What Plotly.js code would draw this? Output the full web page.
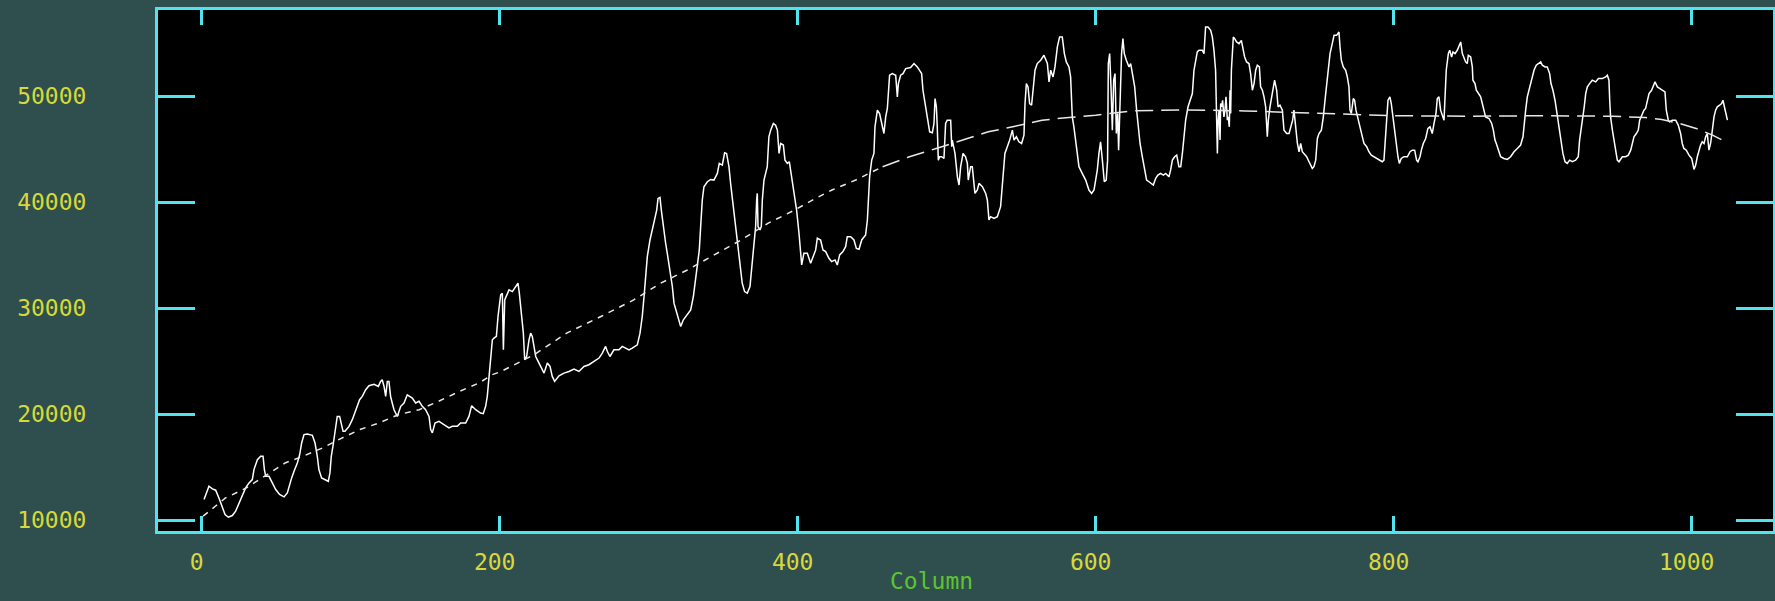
<!DOCTYPE html>
<html>
<head>
<meta charset="utf-8">
<script src="https://cdn.plot.ly/plotly-3.0.1.min.js"></script>
<style>
html,body{margin:0;padding:0;background:#2f4f4f;}
#chart{width:1775px;height:601px;}
</style>
</head>
<body>
<div id="chart"></div>
<script>
// ---- data: [column, counts] ----
const profileA = [[1.6,11950],[3.1,12570],[4.9,13200],[7.2,12950],[9.4,12830],[11.6,12100],[13.4,11320],[15.7,10530],[17.9,10280],[20.6,10440],[22.8,10850],[25.1,11630],[27.3,12320],[29.5,13050],[31.8,13520],[34.0,13830],[35.1,14770],[37.4,15710],[39.6,16030],[41.2,16030],[42.1,14770],[43.0,14140],[45.2,14140],[47.4,13520],[49.7,12890],[52.3,12420],[55.3,12200],[57.5,12570],[59.1,13520],[60.4,13990],[62.0,14620],[64.2,15400],[65.8,16190],[67.1,17280],[68.7,18070],[70.9,18130],[74.3,18010],[76.1,17280],[77.6,16030],[78.7,14770],[80.5,13990],[83.2,13770],[85.0,13670],[86.1,14460],[87.0,16030],[88.1,16970],[89.5,18540],[91.0,19790],[92.6,19790],[94.0,18850],[94.9,18380],[96.2,18380],[98.9,18850],[101.1,19480],[103.4,20420],[106.0,21360],[107.8,21680],[110.1,22310],[112.3,22680],[115.7,22810],[118.6,22620],[120.1,23090],[121.2,23250],[122.4,22620],[123.5,21680],[124.6,23090],[125.7,23090],[126.8,21680],[127.9,21050],[129.1,20420],[131.3,19790],[133.6,20740],[135.8,21050],[138.0,21830],[141.4,21520],[143.6,21050],[145.9,21210],[148.1,20740],[150.3,20420],[152.6,19790],[153.7,18540],[154.8,18230],[156.6,19170],[159.3,19320],[162.6,19010],[166.0,18700],[168.2,18850],[171.6,18850],[173.8,19170],[177.2,19170],[179.4,19790],[181.2,20800],[183.9,20420],[187.2,20110],[189.0,20050],[190.6,20740],[191.7,21680],[192.8,23560],[193.9,25440],[195.1,27010],[196.2,27170],[197.8,27330],[198.9,29210],[199.5,30000],[200.7,31250]];

const profileB = [[201.8,31410],[202.5,26070],[203.4,30780],[206.3,31720],[208.5,31560],[210.7,32040],[212.3,32350],[213.2,31410],[214.5,29840],[215.9,27640],[216.8,25130],[218.1,25440],[219.7,27010],[220.8,27640],[221.9,27330],[223.0,26390],[224.2,25440],[226.4,24820],[229.8,23870],[232.0,24820],[233.8,24500],[235.3,23560],[236.9,23090],[239.8,23620],[243.2,23870],[246.5,24030],[249.9,24250],[253.2,24030],[256.6,24500],[259.9,24660],[263.3,24970],[266.7,25290],[268.9,25760],[271.1,26390],[272.3,25910],[274.0,25440],[276.7,26070],[280.1,26070],[282.3,26390],[284.6,26230],[286.8,26070],[289.0,26230],[292.4,26540],[294.2,27640],[295.7,29210],[296.9,31090],[298.0,33290],[299.1,34860],[300.9,36430],[302.5,37370],[303.6,38000],[305.4,39250],[306.3,40350],[307.6,40450],[308.5,39250],[309.8,37690],[311.4,36120],[312.5,35170],[314.3,33600],[315.9,32040],[317.0,30470],[318.8,29520],[320.3,28900],[321.5,28270],[323.3,28900],[325.9,29370],[328.2,29840],[330.0,31090],[331.5,32660],[332.7,33920],[334.0,35490],[334.9,37690],[336.0,40200],[337.1,41450],[339.4,41920],[341.6,42140],[343.8,42080],[346.1,42710],[347.4,43650],[349.4,43490],[351.0,44650],[352.3,44590],[353.9,43340],[355.0,41770],[356.6,39880],[358.4,37690],[359.9,36120],[361.3,34230],[362.8,32350],[364.4,31560],[366.2,31410],[368.0,32040],[369.6,34230],[370.7,36120],[371.8,37690],[372.5,40200],[372.9,40820],[373.4,37690],[374.7,37370],[375.6,37690],[376.3,40200],[377.4,42080],[379.6,43340],[380.7,46160],[381.9,46790],[383.7,47420],[385.2,47260],[386.4,46790],[387.5,44590],[388.6,45530],[390.4,45380],[391.5,43960],[393.1,43650],[394.4,43810],[395.7,42710],[397.1,41450],[398.2,40200],[399.3,39250],[400.9,37060],[402.0,34860],[402.7,34080],[404.2,35170],[406.5,35170],[408.7,34230],[411.0,35170]];

const profileC = [[412.1,35490],[413.2,36590],[415.4,36430],[417.0,35490],[418.8,35330],[421.0,34700],[422.8,34390],[425.1,34550],[426.6,34070],[428.2,35020],[430.4,35330],[432.2,35800],[433.3,36740],[435.6,36740],[437.8,36430],[439.4,35640],[441.2,35550],[443.0,36430],[445.6,36900],[446.8,38310],[447.4,39570],[448.3,42390],[449.7,43960],[451.2,44590],[451.9,47100],[453.5,48670],[455.0,48360],[456.8,47100],[457.9,46470],[459.1,48040],[460.2,48830],[461.7,51970],[463.5,52120],[465.8,51970],[466.9,49930],[467.6,51180],[469.1,51970],[470.7,52120],[472.5,52590],[475.8,52690],[478.1,53070],[480.3,52750],[481.9,52440],[483.2,52120],[484.1,50550],[485.5,49300],[487.0,47730],[488.6,46630],[490.4,46540],[491.5,47420],[492.2,49770],[493.1,48990],[493.7,47100],[494.4,43960],[495.3,44280],[496.6,44280],[498.2,44120],[499.3,47420],[500.4,47730],[502.7,47730],[503.4,45220],[503.8,45850],[505.6,44590],[507.2,42390],[508.3,41610],[509.4,43340],[511.0,44590],[512.7,44280],[513.9,43650],[514.5,42080],[516.1,43340],[517.2,43340],[519.0,40820],[520.6,41140],[521.7,41770],[524.0,41450],[526.2,40820],[527.3,40200],[528.4,38310],[529.5,38630],[531.8,38470],[534.0,38630],[536.2,39570],[537.4,42080],[539.1,44590],[540.7,45220],[542.3,45850],[544.1,46790],[545.2,45850],[546.8,46160],[548.5,45690],[550.3,45530],[551.9,46320],[552.6,49300],[553.5,51180],[554.6,50870],[555.7,49300],[557.0,49140],[557.9,50400],[559.3,52440],[560.8,53070],[563.1,53380],[565.3,53850],[567.6,53070],[568.7,51340],[569.8,52440],[571.4,51810],[572.7,52750],[574.3,54640],[575.8,55580],[577.6,55580],[579.0,54010],[580.3,53220],[582.1,52750],[583.2,51810],[584.3,48040],[585.4,47100],[587.7,44590],[588.8,43340],[591.0,42710],[593.3,42080],[595.5,41140],[597.3,40820],[598.9,41140],[601.1,43020],[602.2,44590],[603.3,45690],[604.5,43960],[605.8,41920],[607.1,42080],[608.0,43960],[608.5,53070],[609.4,54010],[610.3,50870],[611.2,46790],[612.1,51500],[613.0,52120],[613.9,46470],[614.8,48360],[615.4,44900],[616.3,49610],[617.4,54010],[618.3,55420],[619.2,54010],[620.6,53380],[622.4,52750]];

const profileD = [[623.5,53070],[624.6,52120],[626.2,50870],[627.5,48670],[628.4,47420],[629.8,45530],[631.3,44280],[632.9,43020],[634.2,42080],[635.8,41920],[637.4,41770],[638.7,41610],[640.3,42240],[641.8,42550],[643.6,42710],[645.4,42550],[647.0,42710],[649.2,42390],[650.3,43020],[651.5,43960],[653.0,44280],[654.4,44430],[655.9,43340],[657.1,43340],[658.2,44590],[659.3,46160],[660.4,47730],[662.0,48990],[663.8,49930],[664.9,50240],[666.0,52440],[667.1,53380],[668.2,54160],[669.4,54320],[671.6,54320],[672.7,54010],[673.8,56520],[675.4,56520],[677.2,56210],[678.3,55580],[679.4,54320],[680.5,52440],[681.2,47730],[681.7,44590],[682.1,47420],[682.8,48670],[683.5,45850],[683.9,49300],[684.6,48990],[685.2,49610],[686.1,48040],[686.8,48670],[687.5,49930],[688.4,47730],[689.0,48040],[689.7,47100],[690.2,50550],[690.6,48360],[691.1,52440],[691.7,54320],[692.4,55580],[693.3,55420],[694.6,55110],[696.2,54950],[697.8,55260],[699.1,54320],[700.0,53690],[701.3,53220],[702.9,53070],[704.0,52120],[705.2,50550],[706.3,51180],[707.4,52440],[708.5,52910],[709.9,52750],[710.7,50870],[711.9,50550],[713.0,49930],[714.1,48990],[715.2,46160],[715.9,47730],[717.0,48990],[718.6,50240],[720.1,51500],[721.5,50550],[722.4,48990],[723.7,49140],[725.3,48670],[726.4,46790],[728.2,46470],[729.8,46470],[730.9,46950],[732.2,47730],[733.1,48670],[734.2,47100],[735.4,45530],[736.5,44750],[737.6,45530],[738.7,44750],[739.8,44590],[741.6,44280],[743.2,43810],[744.3,43490],[745.4,43180],[746.5,43340],[747.7,43960],[748.8,46000],[749.9,46470],[751.5,46790],[752.8,48040],[754.4,50240],[755.9,52120],[757.3,54010],[758.8,54950],[760.0,55730],[761.7,55730],[763.3,56050],[764.0,54640],[764.9,53380],[766.2,52750],[767.8,52440],[768.9,51810],[770.0,50870],[770.7,48670],[771.6,48360],[772.9,49770],[773.8,49610],[774.7,48670],[775.6,48040],[777.4,47100],[779.0,46160],[780.1,45530],[781.9,45220],[783.4,44750],[785.0,44430],[786.8,44280],[789.0,44120],[790.8,43960],[792.4,43810],[793.5,43960],[794.6,46470],[795.3,48040],[796.2,49610],[797.5,49930],[798.4,49300],[799.8,47730],[800.7,46790],[802.0,44900],[802.9,44280],[803.8,43650],[805.1,44120],[806.9,44280],[809.2,44280],[811.0,44750],[812.5,44900],[814.1,44900],[815.4,43960],[816.3,43810],[817.7,44280],[818.6,44900],[819.9,45530],[821.5,46000],[823.0,46950],[824.4,47100],[825.9,46470],[827.1,47420],[828.4,48360],[829.3,49770],[830.4,49930],[831.5,48670],[832.7,48040],[833.8,47730]];

const profileE = [[835.3,52440],[836.7,54010],[837.6,54320],[838.9,53690],[839.8,54160],[841.2,54010],[842.7,54320],[843.8,54640],[845.0,55110],[846.1,54010],[847.2,53690],[848.3,53220],[849.4,53070],[850.1,53850],[851.7,53690],[852.8,52750],[853.2,51500],[854.6,51180],[855.5,50550],[856.8,50240],[858.4,49930],[859.5,49300],[860.6,48670],[861.7,48040],[864.0,47890],[865.8,47420],[866.9,46790],[868.0,45850],[868.9,45530],[870.2,44900],[871.8,44280],[874.0,44120],[876.3,44030],[878.5,44280],[880.8,44750],[883.0,45060],[885.2,45380],[886.8,46160],[887.5,47420],[888.6,48670],[889.7,49930],[890.8,50550],[892.6,51500],[894.2,52440],[895.7,52910],[897.5,53070],[898.7,53220],[899.8,52910],[901.6,52750],[903.1,52750],[904.7,52120],[905.6,51180],[906.9,50550],[908.3,49610],[909.2,48670],[910.5,47730],[911.4,46790],[912.7,45530],[913.6,44590],[915.0,43810],[916.5,43650],[918.1,43960],[919.9,43810],[922.1,43960],[923.9,44280],[924.8,45850],[926.2,47100],[927.1,48040],[927.9,48990],[928.9,50240],[930.0,50870],[931.5,51180],[933.3,51500],[935.6,51340],[937.4,51650],[940.0,51650],[942.3,51810],[943.4,51970],[944.5,51500],[945.0,49610],[945.6,48040],[946.8,46790],[947.9,45850],[949.0,44900],[950.1,43960],[951.2,43810],[953.5,44280],[955.7,44280],[957.5,44430],[959.1,44900],[960.2,45530],[961.3,46160],[962.9,46470],[964.2,46790],[965.1,47730],[966.4,48200],[968.0,48670],[969.1,48830],[970.2,49610],[971.4,50240],[973.1,50550],[975.4,51340],[977.0,50870],[978.5,50710],[980.3,50550],[982.1,50400],[983.0,48670],[984.3,47730],[985.2,47570],[987.0,47730],[989.3,47730],[991.0,47260],[992.6,46470],[993.7,45530],[994.8,45060],[996.4,44900],[998.2,44430],[1000.0,44120],[1001.6,43080],[1002.7,43490],[1003.8,44280],[1004.9,44900],[1006.0,45380],[1007.1,45690],[1008.3,45530],[1009.4,46160],[1010.5,46470],[1011.6,44900],[1012.7,45530],[1013.9,46790],[1015.0,48040],[1016.1,48670],[1017.2,48990],[1018.8,49140],[1020.1,49300],[1021.0,49610],[1022.0,48830],[1023.0,48360],[1024.0,47730]];

// fitted curve (dashed)
const fitColumns = [1,16,30,45,56,68,81,92,106,119,132,146,159,173,186,195,201,223,245,268,290,308,326,344,362,380,398,412,423,439,457,475,493,511,528,546,564,582,600,624,660,700,750,800,850,900,947,969,980,992,1003,1014,1024];
const fitCounts  = [10380,12100,13050,14400,15400,16030,16810,17600,18540,19170,19950,20420,21210,22150,22930,23720,24030,25600,27640,29210,30780,32350,33600,35020,36430,38000,39250,40350,41140,42080,43340,44280,45060,45850,46630,47160,47730,47980,48200,48600,48700,48600,48350,48150,48100,48150,48100,47980,47790,47420,46950,46320,45600];

const xTicks = [0,200,400,600,800,1000];
const xTickText = ['0','200','400','600','800','1000'];
const yTicks = [10000,20000,30000,40000,50000];
const yTickText = ['10000','20000','30000','40000','50000'];
const xLabel = 'Column';

// ---- build ----
const profile = [].concat(profileA, profileB, profileC, profileD, profileE);
const px = profile.map(p => p[0]);
const py = profile.map(p => p[1]);

const cut = fitColumns.findIndex(c => c >= 457);

const CY = '#52e4ee', YEL = '#d9d83a', GRN = '#5cc52e', BG = '#2f4f4f';

const traces = [
  {x: px, y: py, type: 'scatter', mode: 'lines', line: {color: '#ffffff', width: 1.5}, hoverinfo: 'skip'},
  {x: fitColumns.slice(0, cut + 1), y: fitCounts.slice(0, cut + 1), type: 'scatter', mode: 'lines',
   line: {color: '#e8e8e8', width: 1.5, dash: '6px,6px'}, hoverinfo: 'skip'},
  {x: fitColumns.slice(cut), y: fitCounts.slice(cut), type: 'scatter', mode: 'lines',
   line: {color: '#e8e8e8', width: 1.5, dash: '18px,8px'}, hoverinfo: 'skip'}
];

const tickFont = {family: 'DejaVu Sans Mono', size: 23, color: YEL};

const layout = {
  width: 1775, height: 601,
  paper_bgcolor: BG, plot_bgcolor: '#000000',
  margin: {l: 158, r: 2, t: 10, b: 70, pad: 0},
  showlegend: false,
  xaxis: {
    range: [-29.3, 1054.6], tickmode: 'array', tickvals: xTicks, ticktext: xTickText,
    ticks: 'inside', ticklen: 15, tickwidth: 2.5, tickcolor: CY,
    showline: true, linecolor: CY, linewidth: 3, mirror: 'ticks',
    showgrid: false, zeroline: false, tickfont: tickFont,
    ticklabelstandoff: 8, ticklabelshift: -5
  },
  yaxis: {
    range: [8980, 58120], tickmode: 'array', tickvals: yTicks, ticktext: yTickText,
    ticks: 'inside', ticklen: 37, tickwidth: 3, tickcolor: CY,
    showline: true, linecolor: CY, linewidth: 3, mirror: 'ticks',
    showgrid: false, zeroline: false, tickfont: tickFont,
    ticklabelstandoff: 64
  },
  annotations: [{
    text: xLabel, xref: 'paper', yref: 'paper', x: 0.479, y: -0.068,
    xanchor: 'center', yanchor: 'top', showarrow: false,
    font: {family: 'DejaVu Sans Mono', size: 23, color: GRN}
  }]
};

Plotly.newPlot('chart', traces, layout, {displayModeBar: false, staticPlot: true});
</script>
</body>
</html>
